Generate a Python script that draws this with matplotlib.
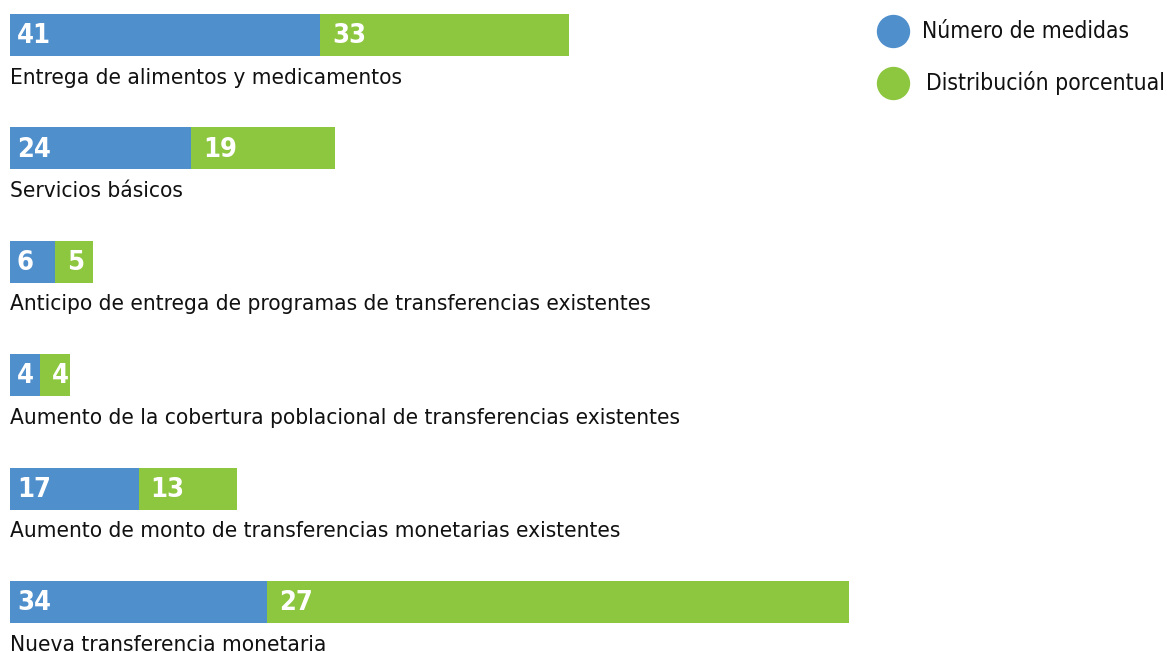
import matplotlib
matplotlib.use('Agg')
import matplotlib.pyplot as plt
from matplotlib.lines import Line2D

categorias = ['Entrega de alimentos y medicamentos',
              'Servicios básicos',
              'Anticipo de entrega de programas de transferencias existentes',
              'Aumento de la cobertura poblacional de transferencias existentes',
              'Aumento de monto de transferencias monetarias existentes',
              'Nueva transferencia monetaria']
medidas = [41, 24, 6, 4, 17, 34]
porcentaje = [33, 19, 5, 4, 13, 27]
# longitud dibujada del segmento verde (la última barra es más larga en el original)
largo_verde = [33, 19, 5, 4, 13, 77]

azul = '#4f8fcc'
verde = '#8dc63f'

W, H = 1167, 652
fig = plt.figure(figsize=(W / 100, H / 100), dpi=100)
ax = fig.add_axes([0, 0, 1, 1])

px_x = 7.56      # pixeles por unidad
px_y = 113.4     # pixeles por fila
ax.set_xlim(-10 / px_x, (W - 10) / px_x)
ax.set_ylim((H - 35) / px_y, -35 / px_y)
ax.axis('off')

alto = 42 / px_y
filas = range(len(categorias))
ax.barh(filas, medidas, height=alto, color=azul)
ax.barh(filas, largo_verde, left=medidas, height=alto, color=verde)

estilo = dict(family='DejaVu Sans', stretch='condensed')
for i in filas:
    ax.text(7 / px_x, i + 0.01, str(medidas[i]), color='white',
            fontsize=19.5, fontweight='heavy', va='center', ha='left', **estilo)
    ax.text(medidas[i] + 12 / px_x, i + 0.01, str(porcentaje[i]), color='white',
            fontsize=19.5, fontweight='heavy', va='center', ha='left', **estilo)
    ax.text(0, i + 0.375, categorias[i], color='#111111', fontsize=16.2,
            va='center', ha='left', **estilo)

fig.text(922 / W, 1 - 31 / H, 'Número de medidas', fontsize=16.3, va='center',
         ha='left', color='#111111', **estilo)
fig.text(926 / W, 1 - 83 / H, 'Distribución porcentual', fontsize=16.4, va='center',
         ha='left', color='#111111', **estilo)
fig.add_artist(Line2D([893 / W], [1 - 31 / H], marker='o', markersize=23,
                      color=azul, transform=fig.transFigure))
fig.add_artist(Line2D([893 / W], [1 - 83 / H], marker='o', markersize=23,
                      color=verde, transform=fig.transFigure))

fig.savefig('out.png', dpi=100)
